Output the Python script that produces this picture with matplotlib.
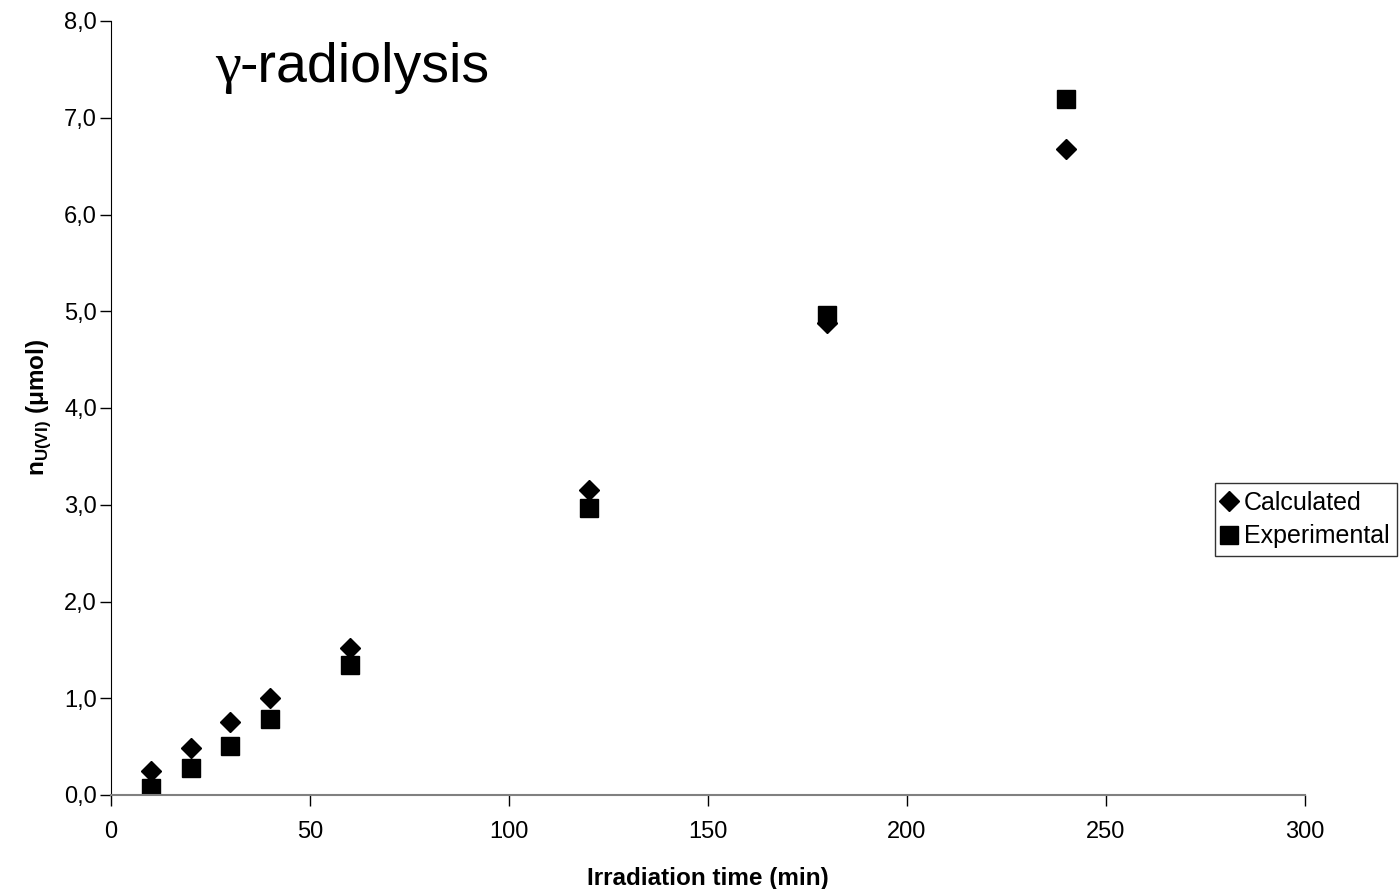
import numpy as np
import matplotlib
matplotlib.use("Agg")
import matplotlib.pyplot as plt
from matplotlib.ticker import FuncFormatter

plt.rcParams['font.family'] = ['Liberation Sans', 'DejaVu Sans']

# irradiation time (min) and U(VI) amount (umol)
time_min = [10, 20, 30, 40, 60, 120, 180, 240]
calculated = [0.25, 0.49, 0.75, 1.0, 1.52, 3.15, 4.88, 6.68]
experimental = [0.07, 0.28, 0.51, 0.79, 1.34, 2.97, 4.96, 7.19]

fig = plt.figure(figsize=(14, 8.89), dpi=100)
ax = fig.add_axes([111 / 1400, 1 - 795 / 889, 1194 / 1400, 774 / 889])

ax.plot(time_min, calculated, linestyle='none', marker='D', color='black',
        markersize=10, label='Calculated')
ax.plot(time_min, experimental, linestyle='none', marker='s', color='black',
        markersize=13.5, label='Experimental')

ax.set_xlim(0, 300)
ax.set_ylim(0, 8)
ax.set_xticks(np.arange(0, 301, 50))
ax.set_yticks(np.arange(0, 8.1, 1))
ax.yaxis.set_major_formatter(FuncFormatter(lambda v, p: f"{v:.1f}".replace('.', ',')))

for side in ['top', 'right']:
    ax.spines[side].set_visible(False)
ax.spines['left'].set_color('black')
ax.spines['bottom'].set_color('#808080')
ax.spines['bottom'].set_linewidth(1.5)
ax.tick_params(direction='out', length=8, width=1, labelsize=17)
ax.tick_params(axis='y', pad=2)
ax.tick_params(axis='x', pad=11)

ax.set_xlabel('Irradiation time (min)', fontsize=17.5, fontweight='bold', labelpad=17)
ax.set_ylabel(r'n$_{\mathregular{U(VI)}}$ ($\mathregular{\mu}$mol)', fontsize=17.5,
              fontweight='bold', labelpad=8)

# title inside the plot: serif gamma followed by sans text
fig.text(215 / 1400, 1 - 82 / 889, 'γ', fontsize=42, family='Liberation Serif',
         va='baseline')
fig.text(239 / 1400, 1 - 82 / 889, '-radiolysis', fontsize=40, va='baseline')

leg = ax.legend(loc='upper left', bbox_to_anchor=(1215 / 1400, 1 - 483 / 889),
                bbox_transform=fig.transFigure, frameon=True, fancybox=False,
                fontsize=18, handlelength=0.5, handletextpad=0.35,
                borderpad=0.3, labelspacing=0.4, borderaxespad=0)
leg.get_frame().set_edgecolor('black')
leg.get_frame().set_linewidth(1)
leg.legend_handles[0].set_markersize(10)
leg.legend_handles[1].set_markersize(13)

fig.savefig('out.png', dpi=100)
